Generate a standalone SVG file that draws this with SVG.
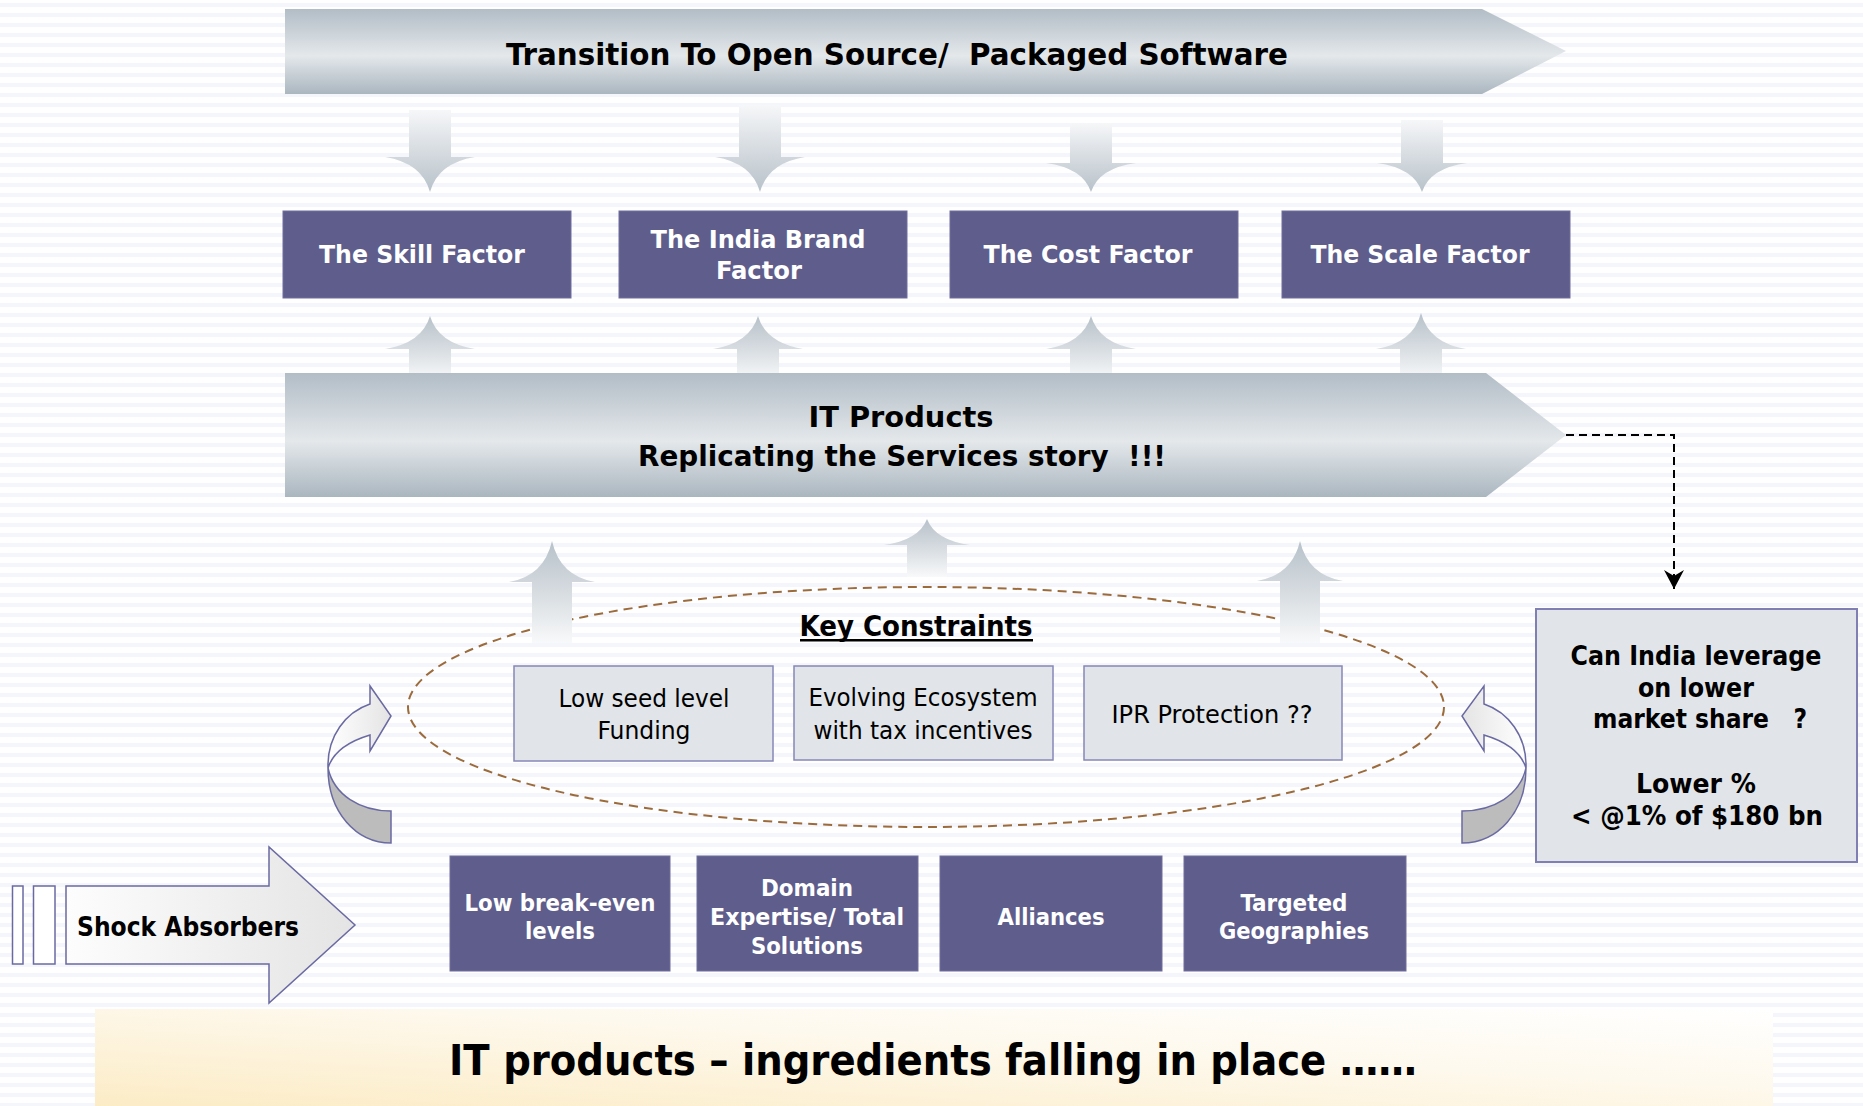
<svg xmlns="http://www.w3.org/2000/svg" width="1863" height="1106" viewBox="0 0 1863 1106">
  <defs>
    <pattern id="stripes" width="10" height="10" patternUnits="userSpaceOnUse">
      <rect width="10" height="10" fill="#ffffff"/>
      <rect y="3" width="10" height="4" fill="#f5f5fc"/>
    </pattern>
    <linearGradient id="bigArrow" x1="0" y1="0" x2="0" y2="1">
      <stop offset="0" stop-color="#b2bdc6"/>
      <stop offset="0.55" stop-color="#e4e8eb"/>
      <stop offset="1" stop-color="#aab6bf"/>
    </linearGradient>
    <linearGradient id="downFade" x1="0" y1="0" x2="0" y2="1">
      <stop offset="0" stop-color="#f6f7f9"/>
      <stop offset="0.55" stop-color="#d3d9de"/>
      <stop offset="1" stop-color="#b8c2ca"/>
    </linearGradient>
    <linearGradient id="upFade" x1="0" y1="0" x2="0" y2="1">
      <stop offset="0" stop-color="#b8c2ca"/>
      <stop offset="0.45" stop-color="#d3d9de"/>
      <stop offset="1" stop-color="#f8f9fa"/>
    </linearGradient>
    <linearGradient id="shockFill" x1="0" y1="0" x2="1" y2="0">
      <stop offset="0" stop-color="#fdfdfd"/>
      <stop offset="1" stop-color="#e4e4e4"/>
    </linearGradient>
    <linearGradient id="curlFrontL" x1="0" y1="0" x2="1" y2="0">
      <stop offset="0" stop-color="#ffffff"/>
      <stop offset="1" stop-color="#e4e4e4"/>
    </linearGradient>
    <linearGradient id="curlFrontR" x1="1" y1="0" x2="0" y2="0">
      <stop offset="0" stop-color="#ffffff"/>
      <stop offset="1" stop-color="#e4e4e4"/>
    </linearGradient>
    <linearGradient id="banner" x1="0" y1="1" x2="1" y2="0">
      <stop offset="0" stop-color="#fcecc6"/>
      <stop offset="0.6" stop-color="#fef9ee"/>
      <stop offset="1" stop-color="#ffffff"/>
    </linearGradient>
    <marker id="dashHead" markerWidth="20" markerHeight="20" refX="19" refY="10" orient="auto" markerUnits="userSpaceOnUse" viewBox="0 0 20 20">
      <path d="M0 0 L19 10 L0 20 L6 10 Z" fill="#000000"/>
    </marker>
    <style>
      .factor { fill: #5e5d8b; stroke: #6f6e9c; stroke-width: 1; }
      .constraint { fill: #e1e5e9; stroke: #8787b8; stroke-width: 1.5; }
      .ftxt { font-family: "DejaVu Sans Condensed", "DejaVu Sans", sans-serif; font-weight: bold; fill: #ffffff; text-anchor: middle; }
      .btxt { font-family: "DejaVu Sans Condensed", "DejaVu Sans", sans-serif; font-weight: bold; fill: #000000; text-anchor: middle; }
      .ntxt { font-family: "DejaVu Sans Condensed", "DejaVu Sans", sans-serif; fill: #000000; text-anchor: middle; }
      .vtxt { font-family: "DejaVu Sans", sans-serif; font-weight: bold; fill: #000000; text-anchor: middle; }
      .outline { stroke: #6a6aa2; stroke-width: 1.5; }
    </style>
  </defs>

  <!-- striped backdrop -->
  <rect width="1863" height="1106" fill="url(#stripes)"/>

  <!-- flow arrows between rows -->
  <g id="flow-arrows">
    <path fill="url(#downFade)" d="M409 110 H451 V157 H475 Q438 163 430 192 Q422 163 385 157 H409 Z"/>
    <path fill="url(#downFade)" d="M739 105 H781 V157 H805 Q768 163 760 192 Q752 163 715 157 H739 Z"/>
    <path fill="url(#downFade)" d="M1070 123 H1112 V163 H1136 Q1099 168 1091 192 Q1083 168 1046 163 H1070 Z"/>
    <path fill="url(#downFade)" d="M1401 120 H1443 V163 H1467 Q1430 168 1422 192 Q1414 168 1377 163 H1401 Z"/>

    <path fill="url(#upFade)" d="M409 380 H451 V349 H475 Q438 343 430 316 Q422 343 385 349 H409 Z"/>
    <path fill="url(#upFade)" d="M737 380 H779 V349 H803 Q766 343 758 316 Q750 343 713 349 H737 Z"/>
    <path fill="url(#upFade)" d="M1070 380 H1112 V349 H1136 Q1099 343 1091 316 Q1083 343 1046 349 H1070 Z"/>
    <path fill="url(#upFade)" d="M1400 380 H1442 V349 H1466 Q1429 343 1421 313 Q1413 343 1376 349 H1400 Z"/>
  </g>

  <!-- top banner arrow -->
  <g id="open-source">
    <path fill="url(#bigArrow)" d="M285 9 H1482 L1566 51 L1482 94 H285 Z"/>
    <text class="btxt" x="897" y="65" font-size="30" textLength="782" lengthAdjust="spacingAndGlyphs" xml:space="preserve">Transition To Open Source/  Packaged Software</text>
  </g>

  <!-- factor row -->
  <g id="skill-factor">
    <rect class="factor" x="283" y="211" width="288" height="87"/>
    <text class="ftxt" x="422" y="263" font-size="25" textLength="206" lengthAdjust="spacingAndGlyphs">The Skill Factor</text>
  </g>
  <g id="brand-factor">
    <rect class="factor" x="619" y="211" width="288" height="87"/>
    <text class="ftxt" x="758" y="248" font-size="25" textLength="215" lengthAdjust="spacingAndGlyphs">The India Brand</text>
    <text class="ftxt" x="759" y="279" font-size="25" textLength="86" lengthAdjust="spacingAndGlyphs">Factor</text>
  </g>
  <g id="cost-factor">
    <rect class="factor" x="950" y="211" width="288" height="87"/>
    <text class="ftxt" x="1088" y="263" font-size="25" textLength="209" lengthAdjust="spacingAndGlyphs">The Cost Factor</text>
  </g>
  <g id="scale-factor">
    <rect class="factor" x="1282" y="211" width="288" height="87"/>
    <text class="ftxt" x="1420" y="263" font-size="25" textLength="219" lengthAdjust="spacingAndGlyphs">The Scale Factor</text>
  </g>

  <!-- IT products banner arrow -->
  <g id="it-products">
    <path fill="url(#bigArrow)" d="M285 373 H1486 L1566 435 L1486 497 H285 Z"/>
    <text class="btxt" x="901" y="427" font-size="28" textLength="185" lengthAdjust="spacingAndGlyphs">IT Products</text>
    <text class="btxt" x="902" y="466" font-size="28" textLength="528" lengthAdjust="spacingAndGlyphs" xml:space="preserve">Replicating the Services story  !!!</text>
  </g>

  <!-- key constraints cluster -->
  <g id="key-constraints">
    <ellipse cx="926" cy="707" rx="518" ry="120" fill="none" stroke="#9c6b3c" stroke-width="2" stroke-dasharray="9 6"/>
    <text class="btxt" x="916" y="636" font-size="28" textLength="233" lengthAdjust="spacingAndGlyphs">Key Constraints</text>
    <rect x="800" y="639" width="233" height="2.5" fill="#000000"/>
  </g>

  <!-- upward arrows rising from the constraints -->
  <g id="rising-arrows">
    <path fill="url(#upFade)" d="M532 643 H572 V582 H595 Q560 576 552 541 Q544 576 509 582 H532 Z"/>
    <path fill="url(#upFade)" d="M907 577 H947 V545 H970 Q935 540 927 519 Q919 540 884 545 H907 Z"/>
    <path fill="url(#upFade)" d="M1280 643 H1320 V581 H1343 Q1308 575 1300 541 Q1292 575 1257 581 H1280 Z"/>
  </g>

  <g id="seed-funding">
    <rect class="constraint" x="514" y="666" width="259" height="95"/>
    <text class="ntxt" x="644" y="707" font-size="25" textLength="171" lengthAdjust="spacingAndGlyphs">Low seed level</text>
    <text class="ntxt" x="644" y="739" font-size="25" textLength="93" lengthAdjust="spacingAndGlyphs">Funding</text>
  </g>
  <g id="ecosystem">
    <rect class="constraint" x="794" y="666" width="259" height="94"/>
    <text class="ntxt" x="923" y="706" font-size="25" textLength="229" lengthAdjust="spacingAndGlyphs">Evolving Ecosystem</text>
    <text class="ntxt" x="923" y="739" font-size="25" textLength="219" lengthAdjust="spacingAndGlyphs">with tax incentives</text>
  </g>
  <g id="ipr-protection">
    <rect class="constraint" x="1084" y="666" width="258" height="94"/>
    <text class="ntxt" x="1212" y="723" font-size="25" textLength="201" lengthAdjust="spacingAndGlyphs">IPR Protection ??</text>
  </g>

  <!-- curled arrows either side of the cluster -->
  <g id="curl-left">
    <path class="outline" fill="#bcbcbc" d="M328 768 C328 812 356 843 391 843 V811 C360 811 334 795 328 768 Z"/>
    <path class="outline" fill="url(#curlFrontL)" d="M328 768 C327 736 346 712 370 704 V686 L391 716 L370 751 V735 C350 741 333 752 328 768 Z"/>
  </g>
  <g id="curl-right">
    <path class="outline" fill="#bcbcbc" d="M1526 768 C1526 812 1498 843 1462 843 V811 C1494 811 1520 795 1526 768 Z"/>
    <path class="outline" fill="url(#curlFrontR)" d="M1526 768 C1527 736 1508 712 1484 704 V686 L1462 716 L1484 751 V735 C1504 741 1521 752 1526 768 Z"/>
  </g>

  <!-- shock absorbers block arrow -->
  <g id="shock-absorbers">
    <rect class="outline" x="12.5" y="886" width="10.5" height="78" fill="#ffffff"/>
    <rect class="outline" x="33.5" y="886" width="21.5" height="78" fill="#ffffff"/>
    <path class="outline" fill="url(#shockFill)" d="M66 886 H269 V847 L355 925 L269 1003 V964 H66 Z"/>
    <text class="btxt" x="188" y="936" font-size="27" textLength="222" lengthAdjust="spacingAndGlyphs">Shock Absorbers</text>
  </g>

  <!-- absorber row -->
  <g id="break-even">
    <rect class="factor" x="450" y="856" width="220" height="115"/>
    <text class="ftxt" x="560" y="911" font-size="23" textLength="191" lengthAdjust="spacingAndGlyphs">Low break-even</text>
    <text class="ftxt" x="560" y="939" font-size="23" textLength="70" lengthAdjust="spacingAndGlyphs">levels</text>
  </g>
  <g id="domain-expertise">
    <rect class="factor" x="697" y="856" width="221" height="115"/>
    <text class="ftxt" x="807" y="896" font-size="23" textLength="92" lengthAdjust="spacingAndGlyphs">Domain</text>
    <text class="ftxt" x="807" y="925" font-size="23" textLength="194" lengthAdjust="spacingAndGlyphs">Expertise/ Total</text>
    <text class="ftxt" x="807" y="954" font-size="23" textLength="112" lengthAdjust="spacingAndGlyphs">Solutions</text>
  </g>
  <g id="alliances">
    <rect class="factor" x="940" y="856" width="222" height="115"/>
    <text class="ftxt" x="1051" y="925" font-size="23" textLength="107" lengthAdjust="spacingAndGlyphs">Alliances</text>
  </g>
  <g id="geographies">
    <rect class="factor" x="1184" y="856" width="222" height="115"/>
    <text class="ftxt" x="1294" y="911" font-size="23" textLength="107" lengthAdjust="spacingAndGlyphs">Targeted</text>
    <text class="ftxt" x="1294" y="939" font-size="23" textLength="150" lengthAdjust="spacingAndGlyphs">Geographies</text>
  </g>

  <!-- market share question -->
  <g id="market-share">
    <rect x="1536" y="609" width="321" height="253" fill="#e1e5e9" stroke="#7f7fb3" stroke-width="2"/>
    <text class="vtxt" x="1696" y="665" font-size="26" textLength="251" lengthAdjust="spacingAndGlyphs">Can India leverage</text>
    <text class="vtxt" x="1696" y="697" font-size="26" textLength="116" lengthAdjust="spacingAndGlyphs">on lower</text>
    <text class="vtxt" x="1700" y="728" font-size="26" textLength="214" lengthAdjust="spacingAndGlyphs" xml:space="preserve">market share   ?</text>
    <text class="vtxt" x="1696" y="793" font-size="26" textLength="120" lengthAdjust="spacingAndGlyphs">Lower %</text>
    <text class="vtxt" x="1697" y="825" font-size="26" textLength="252" lengthAdjust="spacingAndGlyphs">&lt; @1% of $180 bn</text>
  </g>

  <!-- connectors -->
  <g id="connectors">
    <path d="M1566 435 H1674 V589" fill="none" stroke="#000000" stroke-width="2" stroke-dasharray="8 5" marker-end="url(#dashHead)"/>
  </g>

  <!-- closing banner -->
  <g id="closing-banner">
    <rect x="95" y="1009" width="1678" height="97" fill="url(#banner)"/>
    <text class="btxt" x="933" y="1075" font-size="42" textLength="968" lengthAdjust="spacingAndGlyphs">IT products – ingredients falling in place ……</text>
  </g>
</svg>
